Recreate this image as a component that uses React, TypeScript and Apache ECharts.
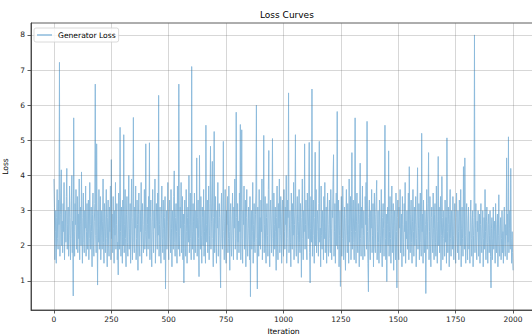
import React, { useEffect, useRef } from "react";
import * as echarts from "echarts";

// Generator loss, every 2 iterations (index k -> iteration 2k)
const ITER_STEP = 2;
const lossValues: number[] = [
  3.9, 3.1, 1.6, 2.4, 3.0, 1.5, 2.8, 3.6, 2.2, 1.9, 3.3, 2.6, 7.22, 1.7, 2.9, 3.5, 4.16, 2.0, 2.7, 1.8, 3.2, 2.4, 3.8, 1.6, 2.5,
  3.0, 2.1, 3.4, 4.2, 1.9, 2.6, 3.1, 1.7, 2.3, 3.7, 2.8, 1.6, 2.2, 3.3, 4.0, 1.8, 2.7, 0.57, 5.64, 2.4, 1.7, 3.2, 2.6, 3.6, 1.9,
  2.5, 3.4, 1.8, 2.9, 2.2, 3.9, 1.6, 2.6, 3.1, 2.0, 4.1, 2.3, 1.5, 2.8, 3.5, 2.1, 1.8, 3.0, 2.5, 3.7, 1.7, 2.4, 3.2, 1.9, 2.7,
  3.3, 1.6, 2.2, 3.8, 2.6, 1.9, 3.1, 2.4, 1.4, 2.9, 3.5, 2.0, 1.7, 2.7, 3.2, 6.6, 2.3, 1.8, 4.9, 2.5, 0.88, 3.0, 2.1, 3.6, 1.9,
  2.6, 3.4, 1.6, 2.3, 3.0, 1.9, 2.7, 3.9, 2.1, 1.5, 3.2, 2.5, 1.8, 2.9, 3.6, 2.2, 1.4, 2.8, 3.3, 2.0, 1.7, 3.1, 2.4, 3.7, 1.6,
  4.45, 2.2, 2.9, 1.8, 3.4, 2.5, 1.5, 3.0, 2.3, 3.8, 1.9, 2.6, 3.2, 1.6, 2.1, 1.17, 3.5, 2.7, 1.9, 5.37, 2.4, 1.7, 3.1, 2.8, 1.5,
  3.3, 2.0, 5.16, 1.8, 2.6, 3.6, 2.2, 1.4, 2.9, 3.4, 2.1, 1.7, 3.0, 4.0, 1.9, 2.5, 3.2, 1.5, 2.7, 3.9, 2.3, 1.6, 2.8, 5.65, 2.1,
  1.8, 3.1, 2.5, 3.7, 1.6, 2.2, 3.3, 2.6, 1.3, 2.9, 3.5, 2.0, 1.7, 3.0, 2.4, 3.8, 1.5, 2.7, 3.2, 2.1, 1.8, 2.6, 3.6, 1.9, 2.4,
  4.9, 2.3, 1.7, 3.1, 2.6, 1.9, 3.4, 2.2, 4.93, 1.6, 2.8, 3.3, 2.0, 1.4, 2.7, 3.6, 2.4, 1.8, 3.0, 2.5, 3.9, 1.5, 2.2, 3.2, 2.7,
  1.9, 3.5, 2.3, 6.28, 1.7, 2.6, 3.1, 2.0, 1.5, 2.9, 3.7, 2.2, 1.8, 3.3, 2.5, 1.6, 2.8, 3.4, 0.77, 2.4, 3.0, 1.9, 2.7, 3.8, 2.1,
  1.6, 2.9, 3.3, 2.2, 1.8, 3.6, 2.5, 1.4, 3.0, 2.7, 1.9, 3.4, 4.13, 2.1, 1.7, 2.8, 3.2, 2.4, 1.5, 3.7, 2.6, 1.9, 6.6, 2.3, 1.7,
  3.1, 2.5, 3.8, 1.8, 2.2, 3.4, 1.6, 2.9, 0.94, 2.6, 3.3, 2.0, 1.7, 3.6, 2.4, 1.5, 2.8, 3.1, 2.1, 4.0, 1.8, 2.6, 3.5, 2.2, 1.6,
  7.1, 2.4, 1.9, 3.2, 2.7, 1.6, 3.5, 2.1, 1.8, 3.0, 2.5, 4.5, 1.7, 2.8, 3.3, 2.2, 1.12, 4.57, 2.6, 1.9, 3.4, 2.3, 1.5, 3.1, 2.8,
  2.0, 3.6, 1.7, 2.4, 3.0, 1.5, 5.43, 2.6, 2.1, 3.3, 1.8, 2.9, 3.7, 1.6, 2.3, 3.2, 4.83, 1.9, 2.7, 3.5, 4.4, 2.2, 1.4, 2.8, 5.25,
  1.8, 2.6, 3.4, 2.1, 1.5, 3.0, 2.5, 3.8, 1.7, 2.3, 3.2, 2.8, 1.6, 0.8, 2.9, 3.5, 2.2, 1.9, 3.1, 4.97, 2.4, 1.6, 2.7, 3.6, 2.0,
  1.5, 3.0, 2.6, 3.4, 1.8, 2.2, 3.7, 2.4, 1.3, 2.9, 3.2, 2.0, 1.7, 2.7, 3.5, 2.3, 1.6, 3.1, 2.5, 3.9, 1.9, 2.2, 5.8, 2.8, 1.6,
  3.2, 2.1, 2.7, 1.8, 3.5, 2.4, 5.45, 1.6, 2.9, 5.3, 2.2, 1.5, 3.0, 2.6, 3.7, 1.9, 2.3, 3.3, 1.4, 2.8, 3.6, 2.0, 1.7, 2.5, 3.1,
  2.3, 1.6, 3.4, 0.55, 2.7, 3.0, 1.9, 2.4, 3.8, 1.5, 2.6, 3.2, 2.1, 1.8, 2.9, 3.5, 6.0, 2.2, 0.77, 3.1, 2.5, 1.7, 3.6, 2.0, 2.8,
  1.9, 3.3, 2.4, 3.9, 1.6, 2.2, 3.0, 5.14, 1.8, 2.6, 3.4, 2.0, 1.5, 2.8, 3.2, 2.3, 1.7, 3.6, 4.71, 2.1, 1.4, 2.9, 3.3, 2.5, 1.8,
  3.0, 5.05, 2.2, 1.7, 3.5, 2.6, 1.9, 3.1, 2.4, 1.3, 2.8, 3.7, 2.0, 1.6, 3.2, 2.5, 3.9, 1.8, 2.3, 3.4, 2.7, 1.5, 2.9, 3.3, 2.1,
  1.7, 3.6, 2.4, 1.9, 3.1, 2.6, 4.0, 1.5, 2.2, 3.3, 2.8, 6.35, 1.8, 2.5, 3.0, 2.1, 1.4, 3.5, 2.7, 1.9, 3.2, 2.3, 3.8, 1.6, 2.6,
  3.1, 5.16, 2.0, 1.7, 2.9, 3.4, 2.3, 1.5, 2.7, 3.6, 2.1, 1.8, 3.2, 2.5, 1.1, 2.8, 3.9, 2.2, 1.6, 3.0, 2.4, 4.9, 1.9, 2.6, 3.3,
  2.0, 1.6, 3.5, 2.7, 2.2, 3.1, 4.94, 1.8, 0.94, 2.5, 3.4, 2.1, 6.46, 1.7, 2.9, 3.3, 2.3, 1.5, 2.8, 4.66, 2.0, 3.6, 1.8, 2.4, 3.0,
  2.6, 1.7, 3.2, 4.97, 2.1, 2.5, 1.4, 3.7, 2.3, 1.9, 3.0, 2.7, 1.6, 3.4, 2.2, 3.8, 1.8, 2.4, 3.1, 1.5, 2.9, 3.5, 2.0, 1.7, 2.6,
  3.3, 2.2, 1.8, 3.6, 2.5, 1.6, 3.0, 2.8, 3.9, 4.59, 1.7, 2.4, 3.2, 1.5, 2.6, 3.5, 2.0, 5.82, 1.9, 2.7, 3.3, 1.4, 2.3, 3.0, 0.84,
  2.5, 3.4, 1.7, 2.2, 3.7, 2.9, 1.6, 2.4, 3.1, 2.0, 1.3, 2.8, 3.6, 2.3, 1.8, 3.2, 2.6, 1.5, 3.9, 2.1, 2.7, 3.4, 1.6, 2.4, 4.65,
  1.9, 2.8, 3.3, 2.1, 1.6, 3.0, 5.64, 2.4, 1.5, 2.7, 3.5, 2.0, 1.8, 3.2, 2.6, 1.4, 2.9, 4.35, 2.2, 1.7, 3.1, 2.5, 3.7, 1.6, 2.3,
  3.0, 2.0, 1.7, 3.4, 2.6, 3.8, 1.9, 5.54, 2.4, 1.5, 0.69, 2.8, 3.3, 2.1, 1.6, 3.0, 2.5, 3.6, 1.8, 2.3, 3.2, 1.4, 2.7, 3.5, 2.0,
  1.8, 2.9, 3.4, 3.86, 1.6, 2.4, 3.0, 2.1, 1.5, 3.3, 2.7, 1.8, 2.3, 3.6, 2.0, 1.4, 2.8, 3.2, 2.5, 1.7, 3.5, 5.43, 2.2, 1.6, 2.9,
  0.98, 2.6, 3.1, 2.0, 4.7, 1.7, 2.4, 3.4, 2.2, 1.5, 2.9, 3.7, 1.8, 2.5, 3.2, 1.3, 2.7, 3.0, 2.1, 1.6, 3.5, 2.4, 0.8, 2.8, 3.3,
  2.0, 1.6, 3.1, 2.5, 3.6, 1.8, 2.3, 2.9, 1.4, 3.4, 2.6, 2.1, 1.7, 3.2, 2.4, 3.8, 1.5, 2.7, 2.2, 3.0, 1.9, 2.5, 3.5, 1.6, 4.25,
  2.3, 1.8, 2.9, 3.3, 2.1, 1.5, 2.7, 3.6, 2.4, 1.7, 3.1, 2.0, 2.6, 3.4, 1.4, 2.2, 3.0, 4.22, 1.9, 2.5, 3.2, 1.6, 2.8, 3.5, 2.1,
  1.7, 5.2, 2.4, 2.9, 1.5, 3.3, 2.2, 1.8, 3.0, 2.6, 0.64, 2.3, 3.6, 1.9, 2.7, 3.2, 4.65, 1.6, 2.4, 3.4, 2.0, 1.4, 2.8, 3.1, 2.2,
  1.8, 3.5, 2.5, 1.6, 2.9, 3.2, 2.1, 1.7, 3.7, 2.4, 1.5, 2.7, 4.54, 2.0, 3.1, 1.8, 2.6, 3.4, 1.3, 2.3, 3.97, 2.8, 1.6, 2.2, 3.0,
  2.5, 1.7, 3.3, 2.1, 2.8, 1.5, 5.07, 2.4, 1.8, 3.1, 2.6, 1.4, 2.9, 3.6, 2.2, 1.7, 3.0, 2.5, 1.9, 3.4, 2.3, 1.6, 2.7, 3.2, 2.0,
  1.5, 2.8, 3.5, 2.2, 1.8, 3.0, 2.4, 1.6, 3.3, 2.7, 2.0, 3.6, 1.4, 2.5, 3.1, 2.2, 1.7, 4.25, 2.6, 1.9, 4.5, 2.3, 1.5, 2.9, 3.2,
  2.1, 1.6, 2.7, 3.1, 1.9, 2.4, 1.5, 2.9, 3.3, 2.2, 1.7, 2.6, 3.0, 1.4, 2.3, 2.8, 8.0, 1.8, 2.5, 3.2, 2.0, 1.6, 2.7, 2.4, 3.0,
  1.7, 2.3, 2.9, 1.5, 2.6, 3.2, 2.0, 1.8, 2.5, 3.0, 1.4, 2.2, 2.8, 1.9, 3.6, 2.4, 1.6, 2.7, 3.1, 2.1, 1.5, 2.6, 2.9, 1.8, 2.3,
  3.0, 1.7, 0.8, 2.5, 2.8, 1.6, 2.2, 3.1, 1.9, 2.4, 2.7, 1.5, 3.2, 2.1, 1.8, 2.6, 2.9, 1.4, 2.3, 3.45, 2.0, 1.7, 2.5, 2.8, 1.6,
  2.2, 3.0, 1.8, 2.4, 1.5, 2.7, 3.1, 2.0, 1.7, 2.6, 2.3, 4.5, 1.6, 2.9, 2.1, 5.1, 1.8, 2.5, 3.0, 1.9, 4.2, 2.2, 1.5, 2.4, 1.8,
  1.3,
];

const xTicks = [0, 250, 500, 750, 1000, 1250, 1500, 1750, 2000];
const yTicks = [1, 2, 3, 4, 5, 6, 7, 8];

const FONT = "DejaVu Sans";
const SPINE = "#333333";
const GRID = "rgba(110,110,110,0.35)";
const LINE = "#8dbbdc";

export default function App() {
  const ref = useRef<HTMLDivElement>(null);

  useEffect(() => {
    document.body.style.margin = "0";
    if (!ref.current) return;
    const chart = echarts.init(ref.current, undefined, { renderer: "svg" });
    const seriesData = lossValues.map((v, i) => [i * ITER_STEP, v]);

    chart.setOption({
      animation: false,
      backgroundColor: "#ffffff",
      textStyle: { fontFamily: FONT },
      title: {
        text: "Loss Curves",
        left: 255,
        top: 5,
        textStyle: { fontFamily: FONT, fontSize: 9, fontWeight: "normal", color: "#000" },
      },
      legend: {
        left: 34,
        top: 28,
        padding: [3, 3, 3, 3],
        itemWidth: 15,
        itemHeight: 1.5,
        itemGap: 4,
        icon: "rect",
        backgroundColor: "rgba(255,255,255,0.85)",
        borderColor: "#d0d0d0",
        borderWidth: 0.8,
        borderRadius: 2,
        textStyle: { fontFamily: FONT, fontSize: 7.6, color: "#000", padding: [0, 0, 0, 1] },
        data: ["Generator Loss"],
        z: 10,
      },
      grid: {
        left: 31,
        right: -4,
        top: 23,
        bottom: 26,
        outerBoundsMode: "none",
        containLabel: false,
        show: true,
        borderColor: SPINE,
        borderWidth: 0.8,
        backgroundColor: "transparent",
      },
      xAxis: {
        type: "value",
        min: -100,
        max: 2100,
        z: 3,
        name: "Iteration",
        nameLocation: "middle",
        nameGap: 16,
        nameTextStyle: { fontFamily: FONT, fontSize: 7.6, color: "#000" },
        axisLine: { show: true, onZero: false, lineStyle: { color: SPINE, width: 0.8 } },
        axisTick: { show: true, customValues: xTicks, length: 3.5, lineStyle: { color: SPINE, width: 0.8 } },
        axisLabel: {
          customValues: xTicks,
          formatter: (v: number) => String(v),
          fontFamily: FONT,
          fontSize: 7.5,
          color: "#222",
          margin: 5,
        },
        splitLine: { show: true, lineStyle: { color: GRID, width: 0.8 } },
      },
      yAxis: {
        type: "value",
        min: 0.17,
        max: 8.34,
        z: 3,
        name: "Loss",
        nameLocation: "middle",
        nameGap: 17,
        nameTextStyle: { fontFamily: FONT, fontSize: 7.6, color: "#000" },
        axisLine: { show: true, onZero: false, lineStyle: { color: SPINE, width: 0.8 } },
        axisTick: { show: true, customValues: yTicks, length: 3.5, lineStyle: { color: SPINE, width: 0.8 } },
        axisLabel: {
          customValues: yTicks,
          formatter: (v: number) => String(v),
          fontFamily: FONT,
          fontSize: 7.5,
          color: "#222",
          margin: 6,
        },
        splitLine: { show: true, lineStyle: { color: GRID, width: 0.8 } },
      },
      series: [
        {
          name: "Generator Loss",
          type: "line",
          data: seriesData,
          showSymbol: false,
          symbol: "none",
          color: LINE,
          lineStyle: { color: LINE, width: 1 },
          z: 1,
        },
      ],
    });

    return () => chart.dispose();
  }, []);

  return <div ref={ref} style={{ width: 532, height: 336 }} />;
}
